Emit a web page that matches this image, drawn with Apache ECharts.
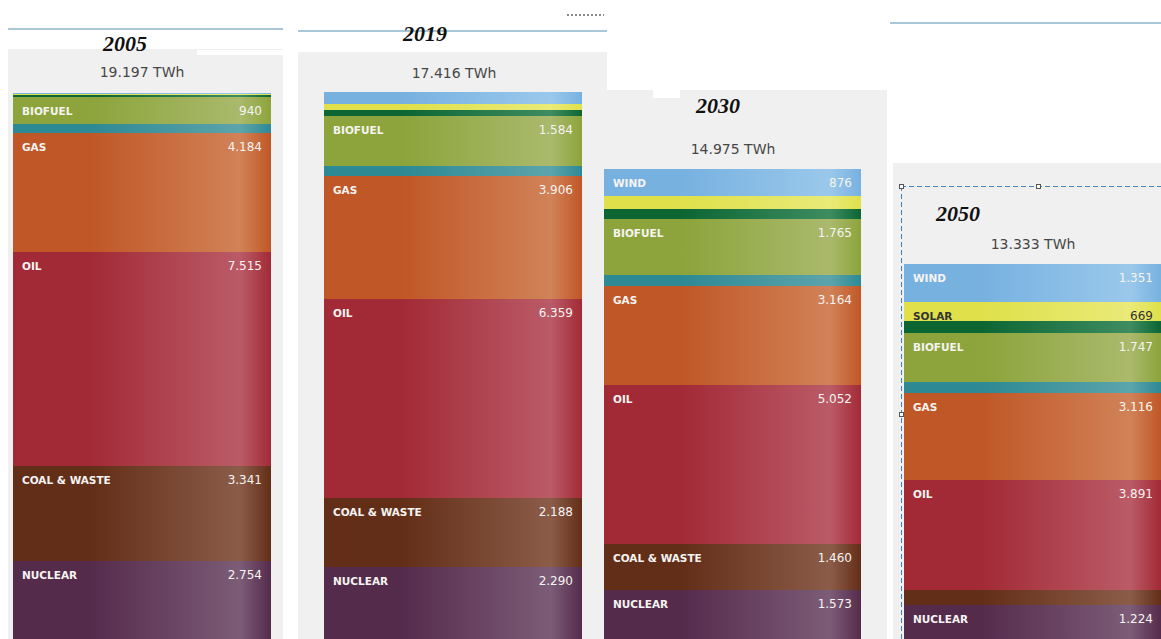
<!DOCTYPE html>
<html>
<head>
<meta charset="utf-8">
<script src="https://cdn.jsdelivr.net/npm/echarts@6/dist/echarts.min.js"></script>
<style>
  html, body { margin: 0; padding: 0; background: #ffffff; }
  #chart { width: 1161px; height: 639px; }
  /* snap band edges to whole pixels so stacked bands meet without hairline seams */
  #chart svg path { shape-rendering: crispEdges; }
</style>
</head>
<body>
<div id="chart"></div>
<script>
// Energy mix per year (TWh), stacked from top to bottom
const years = ['2005', '2019', '2030', '2050'];
const totals = [19197, 17416, 14975, 13333];
const sources = ['WIND', 'SOLAR', 'OTHER RENEWABLES', 'BIOFUEL', 'HYDRO', 'GAS', 'OIL', 'COAL & WASTE', 'NUCLEAR'];
const wind = [35, 370, 876, 1351];
const solar = [35, 190, 410, 669];
const otherRenewables = [80, 220, 320, 420];
const biofuel = [940, 1584, 1765, 1747];
const hydro = [313, 309, 355, 390];
const gas = [4184, 3906, 3164, 3116];
const oil = [7515, 6359, 5052, 3891];
const coalWaste = [3341, 2188, 1460, 525];
const nuclear = [2754, 2290, 1573, 1224];

const values = [wind, solar, otherRenewables, biofuel, hydro, gas, oil, coalWaste, nuclear];

// [base, highlight] colour of each band
const palette = [
  ['#77b1e0', '#9ac8eb'],
  ['#dfe04a', '#e9ea78'],
  ['#0b6633', '#3e8c60'],
  ['#8ca43b', '#aab96c'],
  ['#2d8994', '#5ca4ab'],
  ['#c05726', '#d18258'],
  ['#a22a36', '#ba5b67'],
  ['#632e18', '#8b5c48'],
  ['#552b4c', '#7c5c77']
];
const labelInk = ['#f6f4f2', '#333333', '#f6f4f2', '#f6f4f2', '#f6f4f2', '#f6f4f2', '#f6f4f2', '#f6f4f2', '#f6f4f2'];

// Plot box of each column
const panels = [
  { left: 13,  top: 93,  width: 258, height: 547 },
  { left: 324, top: 92,  width: 258, height: 549 },
  { left: 604, top: 169, width: 257, height: 472 },
  { left: 904, top: 264, width: 258, height: 379 }
];

const fmt = v => String(v).replace(/\B(?=(\d{3})+(?!\d))/g, '.');

function shade(c) {
  return new echarts.graphic.LinearGradient(0, 0, 1, 0, [
    { offset: 0, color: c[0] },
    { offset: 0.3, color: c[0] },
    { offset: 0.88, color: c[1] },
    { offset: 1, color: c[0] }
  ]);
}

const grid = [], xAxis = [], yAxis = [], series = [];
panels.forEach((p, i) => {
  grid.push({ left: p.left, top: p.top, width: p.width, height: p.height, containLabel: false });
  xAxis.push({ type: 'category', gridIndex: i, data: [years[i]], show: false });
  yAxis.push({ type: 'value', gridIndex: i, inverse: true, min: 0, max: totals[i], show: false });
  sources.forEach((s, k) => {
    const v = values[k][i];
    const bandPx = v / totals[i] * p.height;
    const ink = labelInk[k];
    const nameW = p.width - 18 - 60;
    series.push({
      type: 'bar',
      name: s,
      xAxisIndex: i,
      yAxisIndex: i,
      stack: 'mix' + i,
      barWidth: '100%',
      data: [v],
      itemStyle: { color: shade(palette[k]), borderWidth: 0 },
      emphasis: { disabled: true },
      label: {
        show: bandPx >= 18,
        position: [9, 7],
        formatter: '{n|' + s + '}{v|' + fmt(v) + '}',
        rich: {
          n: { width: nameW, fontFamily: 'DejaVu Sans', fontWeight: 'bold', fontSize: 10.5, color: ink, lineHeight: 14 },
          v: { width: 60, align: 'right', fontFamily: 'DejaVu Sans', fontSize: 12, color: ink, lineHeight: 14 }
        }
      }
    });
  });
});

const titleFont = 'italic bold 22px "Liberation Serif"';
const totalFont = '14px "DejaVu Sans"';
const yearPos = [[125, 43], [425, 33], [718, 105], [958, 213]];
const totalPos = [[142, 72], [454, 73], [733, 149], [1033, 244]];

const graphic = [
  // column backgrounds
  { type: 'rect', z: -10, shape: { x: 8, y: 49, width: 275, height: 590 }, style: { fill: '#f0f0f0' } },
  { type: 'rect', z: -10, shape: { x: 197, y: 50, width: 86, height: 5 }, style: { fill: '#ffffff' } },
  { type: 'rect', z: -10, shape: { x: 298, y: 52, width: 309, height: 587 }, style: { fill: '#f0f0f0' } },
  { type: 'rect', z: -9, shape: { x: 600, y: 90, width: 287, height: 549 }, style: { fill: '#f0f0f0' } },
  { type: 'rect', z: -9, shape: { x: 653, y: 90, width: 27, height: 8 }, style: { fill: '#ffffff' } },
  { type: 'rect', z: -8, shape: { x: 893, y: 163, width: 268, height: 476 }, style: { fill: '#f0f0f0' } },
  // header rules
  { type: 'line', z: -5, shape: { x1: 8, y1: 29, x2: 283, y2: 29 }, style: { stroke: '#a9c7d6', lineWidth: 1.5 } },
  { type: 'line', z: -5, shape: { x1: 298, y1: 31, x2: 607, y2: 31 }, style: { stroke: '#a9c7d6', lineWidth: 1.5 } },
  { type: 'line', z: -5, shape: { x1: 890, y1: 23, x2: 1161, y2: 23 }, style: { stroke: '#a9c7d6', lineWidth: 1.5 } },
  { type: 'line', z: -5, shape: { x1: 567, y1: 15, x2: 604, y2: 15 }, style: { stroke: '#8a8a8a', lineWidth: 1.5, lineDash: [2, 2] } },
  // selection frame around the last column
  { type: 'line', z: 20, shape: { x1: 901, y1: 186, x2: 1161, y2: 186 }, style: { stroke: '#4682bf', lineWidth: 1, lineDash: [5, 3] } },
  { type: 'line', z: 20, shape: { x1: 901, y1: 186, x2: 901, y2: 639 }, style: { stroke: '#4682bf', lineWidth: 1, lineDash: [5, 3] } },
  { type: 'rect', z: 21, shape: { x: 899, y: 184, width: 4, height: 4 }, style: { fill: '#ffffff', stroke: '#555555', lineWidth: 1 } },
  { type: 'rect', z: 21, shape: { x: 1036, y: 184, width: 4, height: 4 }, style: { fill: '#ffffff', stroke: '#555555', lineWidth: 1 } },
  { type: 'rect', z: 21, shape: { x: 899, y: 412, width: 4, height: 4 }, style: { fill: '#ffffff', stroke: '#555555', lineWidth: 1 } }
];

years.forEach((y, i) => {
  graphic.push({
    type: 'text', z: 30, x: yearPos[i][0], y: yearPos[i][1],
    style: { text: y, font: titleFont, fill: '#111111', align: 'center', verticalAlign: 'middle' }
  });
  graphic.push({
    type: 'text', z: 30, x: totalPos[i][0], y: totalPos[i][1],
    style: { text: fmt(totals[i]) + ' TWh', font: totalFont, fill: '#474747', align: 'center', verticalAlign: 'middle' }
  });
});

const chart = echarts.init(document.getElementById('chart'), null, { renderer: 'svg' });
chart.setOption({
  animation: false,
  backgroundColor: '#ffffff',
  grid: grid,
  xAxis: xAxis,
  yAxis: yAxis,
  graphic: graphic,
  series: series
});
</script>
</body>
</html>
